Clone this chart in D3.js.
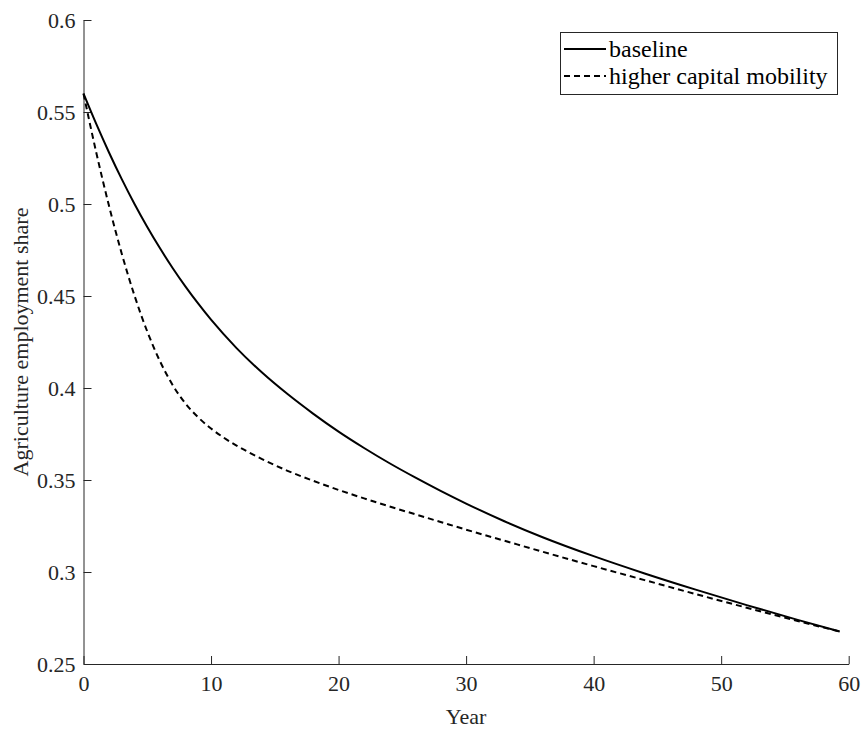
<!DOCTYPE html>
<html lang="en">
<head>
<meta charset="UTF-8">
<title>Agriculture employment share</title>
<script src="https://d3js.org/d3.v7.min.js"></script>
<style>
  body { margin: 0; background: #fff; }
  text { font-family: "Liberation Serif", "Times New Roman", serif; }
</style>
</head>
<body>
<div id="chart"></div>
<script>
// values
const baseYears = [0, 1, 2, 3, 4, 5, 6, 7, 8, 9, 10, 12, 14, 16, 18, 20, 22, 24, 26, 28, 30, 33, 36, 40, 44, 48, 52, 56, 59.3];
const baseline  = [0.5600, 0.5435, 0.5280, 0.5135, 0.5000, 0.4875, 0.4759, 0.4651, 0.4551, 0.4458, 0.4371, 0.4217, 0.4084,
                   0.3967, 0.3861, 0.3763, 0.3674, 0.3591, 0.3514, 0.3441, 0.3372, 0.3276, 0.3189, 0.3086, 0.2992, 0.2904,
                   0.2820, 0.2740, 0.2677];
const mobYears  = [0, 1, 2, 3, 4, 5, 6, 7, 8, 9, 10, 11, 12, 13, 14, 16, 18, 20, 22, 24, 26, 28, 30, 33, 36, 40, 44, 48, 52, 56, 59.3];
const mobility  = [0.5600, 0.5280, 0.4990, 0.4730, 0.4502, 0.4307, 0.4145, 0.4015, 0.3915, 0.3840, 0.3780, 0.3730, 0.3687,
                   0.3649, 0.3614, 0.3550, 0.3496, 0.3446, 0.3400, 0.3356, 0.3314, 0.3272, 0.3230, 0.3170, 0.3110, 0.3032,
                   0.2956, 0.2880, 0.2806, 0.2734, 0.2676];
const xTicks = [0, 10, 20, 30, 40, 50, 60];
const yTicks = [0.25, 0.3, 0.35, 0.4, 0.45, 0.5, 0.55, 0.6];
const legendNames = ["baseline", "higher capital mobility"];

const w = 863, h = 729;
const mLeft = 83.5, mRight = 848.7, mTop = 20, mBottom = 664;
const serif = '"Liberation Serif", "Times New Roman", serif';

const svg = d3.select("#chart").append("svg")
  .attr("width", w).attr("height", h);

svg.append("rect").attr("width", w).attr("height", h).attr("fill", "#fff");

const x = d3.scaleLinear().domain([0, 60]).range([mLeft, mRight]);
const y = d3.scaleLinear().domain([0.25, 0.6]).range([mBottom, mTop]);

const axisColor = "#262626";

// axes, ticks pointing inward
const gx = svg.append("g")
  .attr("transform", `translate(0,${mBottom})`)
  .call(d3.axisBottom(x).tickValues(xTicks).tickFormat(d3.format("d"))
    .tickSizeInner(-8).tickSizeOuter(0).tickPadding(11));
const gy = svg.append("g")
  .attr("transform", `translate(${mLeft},0)`)
  .call(d3.axisLeft(y).tickValues(yTicks).tickFormat(d => String(+d.toFixed(2)))
    .tickSizeInner(-8).tickSizeOuter(0).tickPadding(8));

[gx, gy].forEach(g => {
  g.attr("font-family", serif).attr("font-size", 22);
  g.select(".domain").attr("stroke", axisColor).attr("stroke-width", 1);
  g.selectAll(".tick line").attr("stroke", axisColor);
  g.selectAll(".tick text").attr("fill", axisColor);
});

// axis labels
svg.append("text")
  .attr("x", (mLeft + mRight) / 2).attr("y", 724)
  .attr("text-anchor", "middle").attr("fill", axisColor)
  .style("font-size", "22px").text("Year");
svg.append("text")
  .attr("transform", `translate(28,${(mTop + mBottom) / 2}) rotate(-90)`)
  .attr("text-anchor", "middle").attr("fill", axisColor)
  .style("font-size", "22px").text("Agriculture employment share");

const line = d3.line().curve(d3.curveMonotoneX)
  .x(d => x(d[0])).y(d => y(d[1]));

svg.append("path")
  .datum(mobYears.map((t, i) => [t, mobility[i]]))
  .attr("d", line).attr("fill", "none")
  .attr("stroke", "#000").attr("stroke-width", 2)
  .attr("stroke-dasharray", "6,4");

svg.append("path")
  .datum(baseYears.map((t, i) => [t, baseline[i]]))
  .attr("d", line).attr("fill", "none")
  .attr("stroke", "#000").attr("stroke-width", 2);

// legend
const lg = svg.append("g");
lg.append("rect")
  .attr("x", 560.5).attr("y", 32.5).attr("width", 277).attr("height", 62)
  .attr("fill", "#fff").attr("stroke", axisColor).attr("stroke-width", 1);
legendNames.forEach((name, i) => {
  const cy = 49 + i * 27;
  lg.append("line")
    .attr("x1", 564).attr("x2", 606).attr("y1", cy).attr("y2", cy)
    .attr("stroke", "#000").attr("stroke-width", 2)
    .attr("stroke-dasharray", i === 1 ? "6,4" : null);
  lg.append("text")
    .attr("x", 609).attr("y", cy).attr("dy", "0.35em")
    .attr("fill", "#000").style("font-size", "24px").text(name);
});
</script>
</body>
</html>
